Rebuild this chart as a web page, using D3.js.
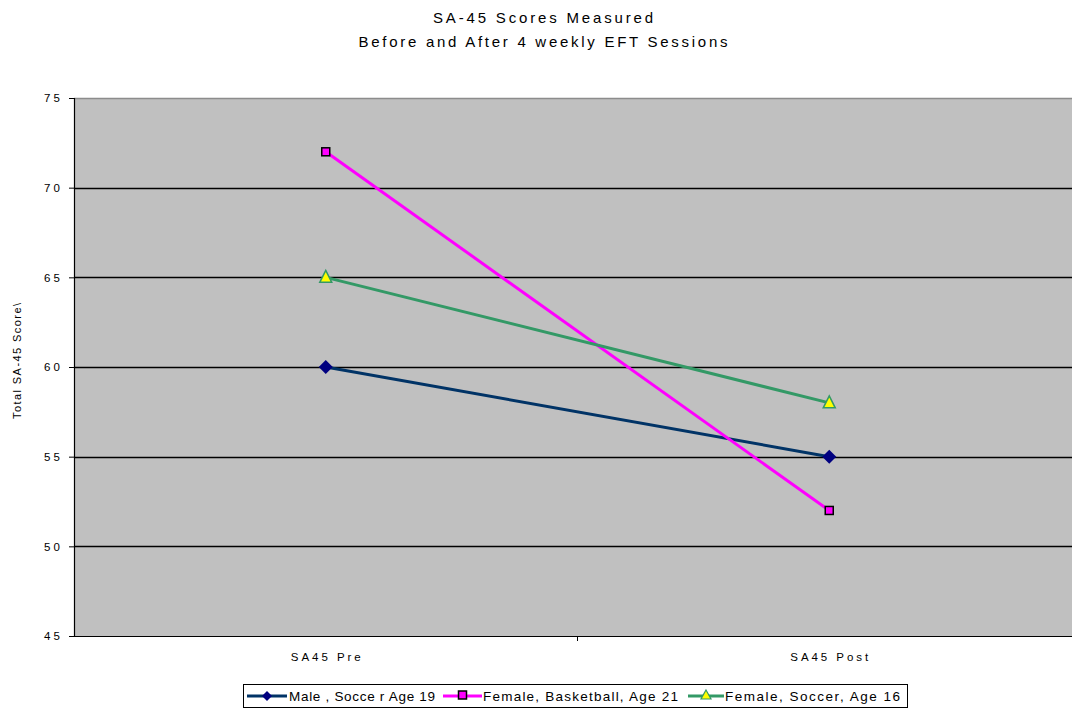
<!DOCTYPE html>
<html><head><meta charset="utf-8">
<script src="https://cdn.jsdelivr.net/npm/d3@7"></script>
<style>body{margin:0;background:#fff;} svg{display:block;font-family:"Liberation Sans",Arial,sans-serif;}</style>
</head><body>
<script>
const categories = ["SA45 Pre", "SA45 Post"];
const seriesNames = ["Male , Socce r Age 19", "Female, Basketball, Age 21", "Female, Soccer, Age 16"];
const maleValues = [60, 55];
const basketballValues = [72, 52];
const soccerValues = [65, 58];
const yTicks = [45, 50, 55, 60, 65, 70, 75];

const W = 1072, H = 709;
const svg = d3.select("body").append("svg").attr("width", W).attr("height", H);
const m = {left: 74, top: 98, right: -9, bottom: 73};
const x = d3.scaleBand().domain(categories).range([m.left, W - m.right]);
const y = d3.scaleLinear().domain([45, 75]).range([H - m.bottom, m.top]);

svg.append("rect").attr("x", m.left).attr("y", m.top).attr("width", W - m.left + 20).attr("height", y(45) - m.top).attr("fill", "#c0c0c0");
svg.append("line").attr("x1", m.left).attr("x2", W).attr("y1", m.top + 0.5).attr("y2", m.top + 0.5).attr("stroke", "#8c8c8c").attr("stroke-width", 1.5);

// gridlines
svg.append("g").selectAll("line").data(yTicks.filter(d => d > 45 && d < 75)).join("line")
  .attr("x1", m.left).attr("x2", W).attr("y1", d => Math.round(y(d)) + 0.5).attr("y2", d => Math.round(y(d)) + 0.5)
  .attr("stroke", "#000").attr("stroke-width", 1.3);

// y axis
const yAxis = svg.append("g").attr("transform", `translate(${m.left},0)`)
  .call(d3.axisLeft(y).tickValues(yTicks).tickSize(5).tickPadding(9));
yAxis.select(".domain").attr("stroke", "#000").attr("stroke-width", 1.2);
yAxis.selectAll("text").attr("font-size", 11.5).attr("fill", "#000").attr("textLength", 16).attr("lengthAdjust", "spacing");

// x axis
const xAxis = svg.append("g").attr("transform", `translate(0,${y(45)})`)
  .call(d3.axisBottom(x).tickSize(0).tickPadding(17));
xAxis.select(".domain").attr("stroke", "#000").attr("stroke-width", 1.2);
xAxis.selectAll("text").attr("font-size", 11.5).attr("fill", "#000")
  .attr("textLength", (d, i) => i === 0 ? 70 : 78).attr("lengthAdjust", "spacing");
svg.append("line").attr("x1", x(categories[1])).attr("x2", x(categories[1]))
  .attr("y1", y(45)).attr("y2", y(45) + 5).attr("stroke", "#000");

// title
svg.append("text").attr("x", 543).attr("y", 23).attr("text-anchor", "middle").attr("font-size", 15)
  .attr("textLength", 220).attr("lengthAdjust", "spacing").text("SA-45 Scores Measured");
svg.append("text").attr("x", 543).attr("y", 47).attr("text-anchor", "middle").attr("font-size", 15)
  .attr("textLength", 369).attr("lengthAdjust", "spacing").text("Before and After 4 weekly EFT Sessions");
// y label
svg.append("text").attr("transform", `translate(21,${(m.top + y(45)) / 2 - 6}) rotate(-90)`).attr("text-anchor", "middle")
  .attr("font-size", 11).attr("textLength", 116).attr("lengthAdjust", "spacing").text("Total SA-45 Score\\");

const cx = c => x(c) + x.bandwidth() / 2;
const series = [
  {name: seriesNames[0], values: maleValues, line: "#003366", marker: "diamond"},
  {name: seriesNames[1], values: basketballValues, line: "#ff00ff", marker: "square"},
  {name: seriesNames[2], values: soccerValues, line: "#339966", marker: "triangle"}
];
const lineGen = d3.line().x((d, i) => cx(categories[i])).y(d => y(d));

function drawMarker(g, type, px, py) {
  if (type === "diamond") {
    g.append("path").attr("d", `M${px},${py - 7}L${px + 7},${py}L${px},${py + 7}L${px - 7},${py}Z`)
      .attr("fill", "#000080");
  } else if (type === "square") {
    g.append("rect").attr("x", px - 4).attr("y", py - 4).attr("width", 8).attr("height", 8)
      .attr("fill", "#ff00ff").attr("stroke", "#000").attr("stroke-width", 1.5);
  } else {
    g.append("path").attr("d", `M${px},${py - 7}L${px + 6},${py + 5}L${px - 6},${py + 5}Z`)
      .attr("fill", "#ffff00").attr("stroke", "#339966").attr("stroke-width", 1.5);
  }
}

const g = svg.append("g");
series.forEach(s => {
  g.append("path").datum(s.values).attr("d", lineGen).attr("fill", "none").attr("stroke", s.line).attr("stroke-width", 3);
});
series.forEach(s => {
  s.values.forEach((v, i) => drawMarker(g, s.marker, cx(categories[i]), y(v)));
});

// legend
const lg = svg.append("g");
lg.append("rect").attr("x", 243.5).attr("y", 684.5).attr("width", 664).attr("height", 23).attr("fill", "#fff").attr("stroke", "#000");
const items = [
  {s: series[0], x0: 247, x1: 287, tx: 289, tl: 146},
  {s: series[1], x0: 443, x1: 482, tx: 483, tl: 195},
  {s: series[2], x0: 688, x1: 724, tx: 725, tl: 175}
];
items.forEach(it => {
  lg.append("line").attr("x1", it.x0).attr("x2", it.x1).attr("y1", 696).attr("y2", 696).attr("stroke", it.s.line).attr("stroke-width", 3);
  const mx = (it.x0 + it.x1) / 2;
  if (it.s.marker === "diamond") {
    lg.append("path").attr("d", "M0,-5L5,0L0,5L-5,0Z").attr("transform", `translate(${mx},696)`).attr("fill", "#000080");
  } else if (it.s.marker === "square") {
    lg.append("rect").attr("x", mx - 4).attr("y", 691).attr("width", 8).attr("height", 8).attr("fill", "#ff00ff").attr("stroke", "#000").attr("stroke-width", 1.5);
  } else {
    lg.append("path").attr("d", `M${mx},690L${mx + 5},699L${mx - 5},699Z`).attr("fill", "#ffff00").attr("stroke", "#339966").attr("stroke-width", 1.2);
  }
  lg.append("text").attr("x", it.tx).attr("y", 701).attr("font-size", 13.5)
    .attr("textLength", it.tl).attr("lengthAdjust", "spacing").text(it.s.name);
});
</script>
</body></html>
